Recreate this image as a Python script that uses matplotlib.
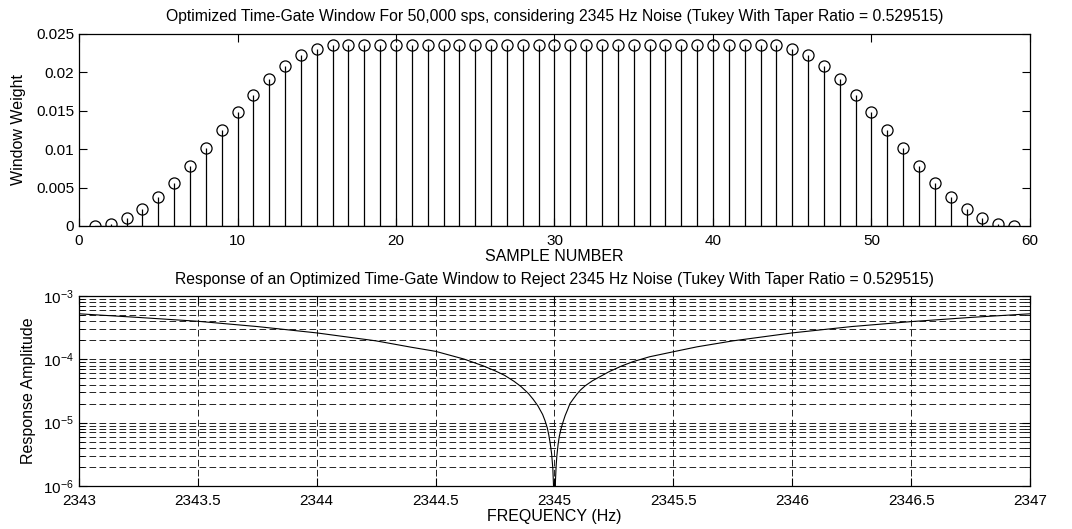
import matplotlib
matplotlib.use("Agg")
import matplotlib.pyplot as plt
from matplotlib.ticker import LogLocator, NullFormatter, FixedLocator

plt.rcParams['font.family'] = ['Liberation Sans', 'DejaVu Sans']
plt.rcParams['mathtext.fontset'] = 'custom'
plt.rcParams['mathtext.rm'] = 'Liberation Sans'
plt.rcParams['mathtext.it'] = 'Liberation Sans:italic'
plt.rcParams['axes.unicode_minus'] = False

# Tukey window weights, 59 taps
muestras = list(range(1, 60))
pesos = [0.0000, 0.0003, 0.0010, 0.0022, 0.0038, 0.0056, 0.0078, 0.0101, 0.0125, 0.0149,
         0.0171, 0.0191, 0.0208, 0.0222, 0.0231,
         0.0235, 0.0235, 0.0235, 0.0235, 0.0235, 0.0235, 0.0235, 0.0235, 0.0235, 0.0235,
         0.0235, 0.0235, 0.0235, 0.0235, 0.0235, 0.0235, 0.0235, 0.0235, 0.0235, 0.0235,
         0.0235, 0.0235, 0.0235, 0.0235, 0.0235, 0.0235, 0.0235, 0.0235, 0.0235,
         0.0231, 0.0222, 0.0208, 0.0191, 0.0171, 0.0149, 0.0125, 0.0101, 0.0078, 0.0056,
         0.0038, 0.0022, 0.0010, 0.0003, 0.0000]

# Response amplitude around the 2345 Hz notch
frecuencias = [2343.0, 2343.25, 2343.5, 2343.75, 2344.0, 2344.25, 2344.4, 2344.5, 2344.62,
               2344.7, 2344.75, 2344.79, 2344.83, 2344.86, 2344.89, 2344.91, 2344.93,
               2344.95, 2344.96, 2344.97, 2344.976, 2344.982, 2344.988, 2344.993, 2344.997,
               2345.0,
               2345.004, 2345.007, 2345.01, 2345.015, 2345.02, 2345.027, 2345.035, 2345.045,
               2345.055, 2345.065, 2345.08, 2345.095, 2345.11, 2345.13, 2345.16, 2345.19,
               2345.23, 2345.28, 2345.33, 2345.4,
               2345.5, 2345.6, 2345.75, 2346.0, 2346.25, 2346.5, 2346.75, 2347.0]
respuesta = [5.25e-4, 4.6e-4, 4.0e-4, 3.3e-4, 2.62e-4, 1.96e-4, 1.55e-4, 1.34e-4, 1.01e-4,
             7.9e-5, 6.6e-5, 5.6e-5, 4.5e-5, 3.7e-5, 2.9e-5, 2.35e-5, 1.85e-5,
             1.35e-5, 1.08e-5, 8.2e-6, 6.4e-6, 4.7e-6, 3.2e-6, 1.9e-6, 8e-7,
             1e-8,
             1.2e-6, 2.1e-6, 3.0e-6, 4.5e-6, 6.0e-6, 7.9e-6, 1.0e-5, 1.3e-5,
             1.6e-5, 2.0e-5, 2.4e-5, 2.85e-5, 3.3e-5, 3.85e-5, 4.6e-5, 5.3e-5,
             6.4e-5, 7.8e-5, 9.2e-5, 1.1e-4,
             1.32e-4, 1.58e-4, 1.96e-4, 2.62e-4, 3.3e-4, 3.95e-4, 4.6e-4, 5.25e-4]

fig = plt.figure(figsize=(10.72, 5.29), dpi=100)

# Stem plot of the window
ax1 = fig.add_axes([0.0737, 0.5728, 0.8871, 0.363])
lineas_m, lineas_s, base = ax1.stem(muestras, pesos, linefmt='k-', markerfmt='ko', basefmt='k-')
lineas_m.set_markerfacecolor('none')
lineas_m.set_markersize(8)
lineas_m.set_markeredgewidth(0.9)
lineas_s.set_linewidth(0.9)
base.set_linewidth(0.9)
ax1.set_xlim(0, 60)
ax1.set_ylim(0, 0.025)
ax1.set_xticks([0, 10, 20, 30, 40, 50, 60])
ax1.set_yticks([0, 0.005, 0.01, 0.015, 0.02, 0.025])
ax1.set_yticklabels(['0', '0.005', '0.01', '0.015', '0.02', '0.025'])
ax1.set_title('Optimized Time-Gate Window For 50,000 sps, considering 2345 Hz Noise '
              '(Tukey With Taper Ratio = 0.529515)', fontsize=11.3, pad=9)
ax1.set_xlabel('SAMPLE NUMBER', fontsize=11.5, labelpad=1)
ax1.set_ylabel('Window Weight', fontsize=11.5, labelpad=7)

# Frequency response on log scale
ax2 = fig.add_axes([0.0737, 0.0813, 0.8871, 0.359])
ax2.semilogy(frecuencias, respuesta, color='k', linewidth=0.8)
ax2.set_xlim(2343, 2347)
ax2.set_ylim(1e-6, 1e-3)
ax2.set_xticks([2343, 2343.5, 2344, 2344.5, 2345, 2345.5, 2346, 2346.5, 2347])
ax2.set_xticklabels(['2343', '2343.5', '2344', '2344.5', '2345', '2345.5', '2346', '2346.5', '2347'])
ax2.yaxis.set_major_locator(FixedLocator([1e-6, 1e-5, 1e-4, 1e-3]))
ax2.yaxis.set_minor_locator(LogLocator(base=10, subs=range(2, 10)))
ax2.yaxis.set_minor_formatter(NullFormatter())
ax2.grid(True, which='major', axis='both', color='k', linestyle=(0, (8, 4)), linewidth=0.6)
ax2.grid(True, which='minor', axis='y', color='k', linestyle=(0, (8, 4)), linewidth=0.6)
ax2.set_title('Response of an Optimized Time-Gate Window to Reject 2345 Hz Noise '
              '(Tukey With Taper Ratio = 0.529515)', fontsize=11.3, pad=9)
ax2.set_xlabel('FREQUENCY (Hz)', fontsize=11.5, labelpad=1)
ax2.set_ylabel('Response Amplitude', fontsize=11.5, labelpad=5)

for ax in (ax1, ax2):
    ax.tick_params(which='both', direction='in', top=True, right=True, labelsize=11)
    ax.tick_params(axis='x', pad=5.5)
    ax.tick_params(which='major', length=6)
    ax.tick_params(which='minor', length=3.5)
    for s in ax.spines.values():
        s.set_linewidth(0.9)

fig.savefig('out.png', dpi=100)
